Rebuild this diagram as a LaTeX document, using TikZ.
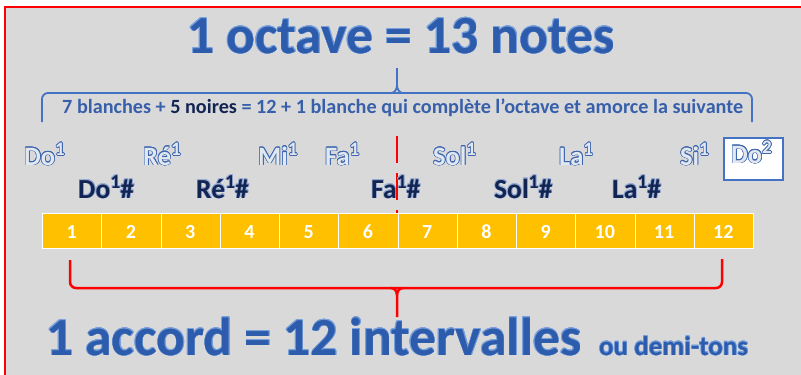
\documentclass[tikz,border=0pt]{standalone}
\usepackage{fontspec}
\setmainfont{Carlito}
\usepackage{contour}
\contourlength{0.5pt}
\definecolor{bggray}{RGB}{217,217,217}
\definecolor{titleblue}{RGB}{45,92,172}
\definecolor{titleedge}{RGB}{120,160,220}
\definecolor{noteblue}{RGB}{62,102,175}
\definecolor{noteface}{RGB}{226,232,240}
\definecolor{navy}{RGB}{18,36,82}
\definecolor{halo}{RGB}{150,172,212}
\definecolor{midblue}{RGB}{55,95,170}
\definecolor{cellyellow}{RGB}{255,192,0}
\definecolor{boxblue}{RGB}{68,114,196}
\definecolor{bracered}{RGB}{255,0,0}
\newcommand\nsup[1]{\raisebox{0.36em}{\scalebox{0.72}{#1}}}
\tikzset{
  titletext/.style={font=\bfseries\fontsize{53.6}{60}\selectfont, text=titleblue, inner sep=0pt, anchor=base west},
  subtitle/.style={font=\bfseries\fontsize{27}{30}\selectfont, text=titleblue, inner sep=0pt, anchor=base west},
  smallline/.style={font=\bfseries\fontsize{20.2}{22}\selectfont, text=midblue, inner sep=0pt, anchor=base west},
  whitenote/.style={font=\bfseries\fontsize{26.5}{28}\selectfont, text=noteface, inner sep=0pt, anchor=base west},
  sharpnote/.style={font=\bfseries\fontsize{27.5}{30}\selectfont, text=navy, inner sep=0pt, anchor=base west},
  cell/.style={draw=white, line width=1pt, fill=cellyellow, minimum width=59.25pt, minimum height=35pt, inner sep=0pt, anchor=north west},
  cellnum/.style={font=\bfseries\fontsize{20}{22}\selectfont, text=white, inner sep=0pt, anchor=base},
  bluebrace/.style={draw=boxblue, line width=1.8pt, rounded corners=6pt},
  redbrace/.style={draw=bracered, line width=2.5pt, rounded corners=6pt},
}
\begin{document}
\begin{tikzpicture}[x=1pt,y=-1pt]
\useasboundingbox (0,0) rectangle (801,375);
\clip (0,0) rectangle (801,375);
\fill[white] (0,0) rectangle (801,375);
\draw[bracered, line width=2pt, fill=bggray] (5,7) rectangle (830,400);

% titles
\node[titletext] (ttop) at (187,53) {\contour{titleedge}{1 octave = 13 notes}};
\node[titletext] (tbot) at (46,355) {\contour{titleedge}{1 accord = 12 intervalles}};
\node[subtitle] (tsub) at (599,355) {\contour{titleedge}{ou demi-tons}};

% blue brace
\draw[bluebrace] (42,122) -- (42,93) -- (397,93);
\draw[bluebrace] (752,122) -- (752,93) -- (397,93);
\draw[boxblue, line width=1.8pt] (391,93) to[out=0,in=-90] (397,85) -- (397,68);
\draw[boxblue, line width=1.8pt] (403,93) to[out=180,in=-90] (397,85);

\node[smallline] (expl) at (62,113) {7 blanches + \textcolor{navy}{5 noires} = 12 + 1 blanche qui complète l’octave et amorce la suivante};

% red dashed line
\coordinate (dtop) at (397,136);
\coordinate (dbot) at (397,213);
\draw[bracered, line width=2.5pt, dash pattern=on 27pt off 10pt] (dtop) -- (dbot);

% Do2 box
\node[draw=boxblue, line width=1.8pt, fill=white, minimum width=59pt, minimum height=42pt, anchor=north west, inner sep=0pt] (dobox) at (723,137) {};

% white notes
\contourlength{0.65pt}
\node[whitenote] (do1) at (24,165) {\contour{noteblue}{Do\nsup{1}}};
\node[whitenote] (re1) at (143,165) {\contour{noteblue}{Ré\nsup{1}}};
\node[whitenote] (mi1) at (258,165) {\contour{noteblue}{Mi\nsup{1}}};
\node[whitenote] (fa1) at (325,165) {\contour{noteblue}{Fa\nsup{1}}};
\node[whitenote] (sol1) at (433,165) {\contour{noteblue}{Sol\nsup{1}}};
\node[whitenote] (la1) at (559,165) {\contour{noteblue}{La\nsup{1}}};
\node[whitenote] (si1) at (680,165) {\contour{noteblue}{Si\nsup{1}}};
\node[whitenote] (do2) at (731,163) {\contour{noteblue}{Do\nsup{2}}};

% sharp notes
\contourlength{0.7pt}
\node[sharpnote] (dos) at (78,198) {\contour{halo}{Do\nsup{1}\#}};
\node[sharpnote] (res) at (196,198) {\contour{halo}{Ré\nsup{1}\#}};
\node[sharpnote] (fas) at (371,198) {\contour{halo}{Fa\nsup{1}\#}};
\node[sharpnote] (sols) at (494,198) {\contour{halo}{Sol\nsup{1}\#}};
\node[sharpnote] (las) at (612,198) {\contour{halo}{La\nsup{1}\#}};

% cells
\foreach \i in {1,...,12}{
  \node[cell] (c\i) at ({42+(\i-1)*59.25},213) {};
  \node[cellnum] (n\i) at ({42+(\i-0.5)*59.25},238) {\i};
}

% red brace
\draw[redbrace] (70,260) -- (70,288) -- (397,288);
\draw[redbrace] (722,259) -- (722,288) -- (397,288);
\draw[bracered, line width=2.5pt] (391,288) to[out=0,in=90] (397,295) -- (397,317);
\draw[bracered, line width=2.5pt] (403,288) to[out=180,in=90] (397,295);
\end{tikzpicture}
\end{document}
